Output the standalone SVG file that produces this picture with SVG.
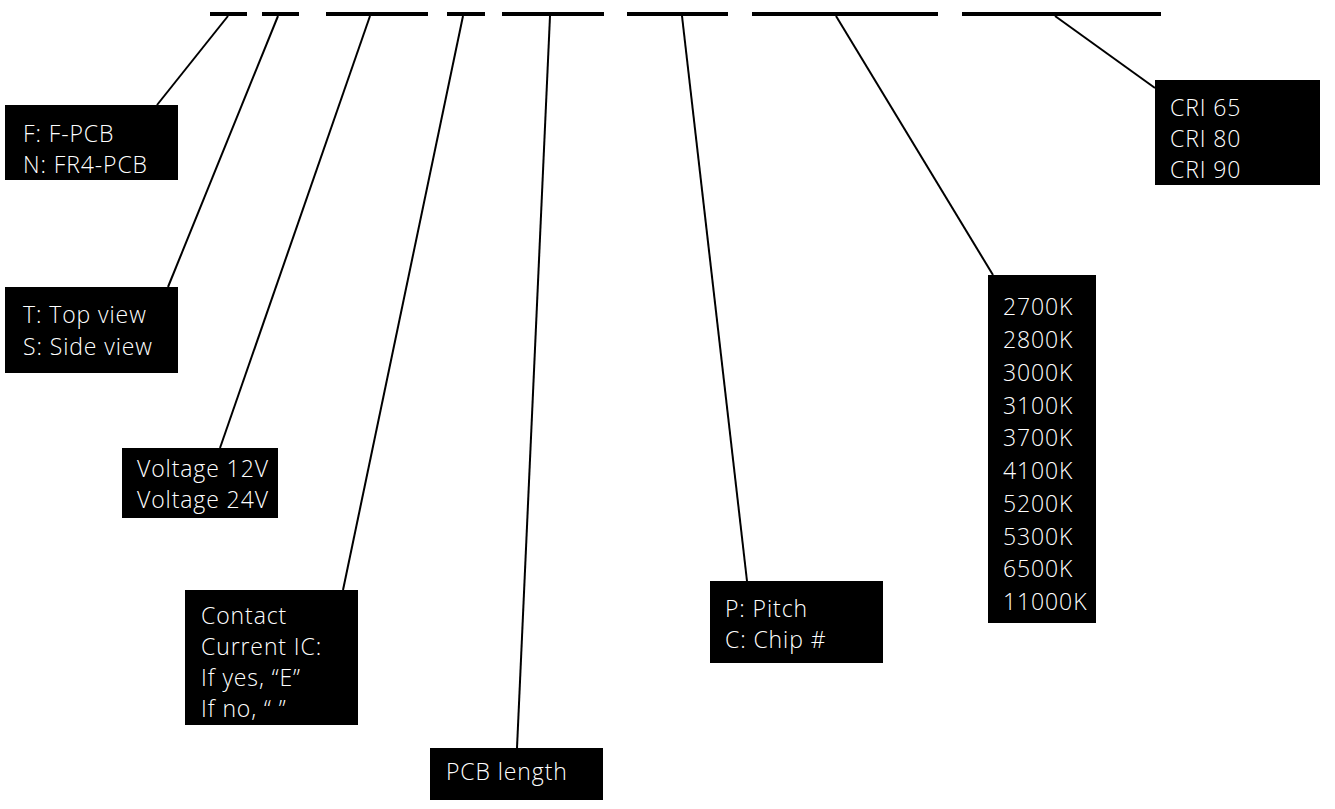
<svg xmlns="http://www.w3.org/2000/svg" width="1335" height="809" viewBox="0 0 1335 809">
<style>
.bar{stroke:#000;stroke-width:4;fill:none}
.con{stroke:#000;stroke-width:2;fill:none}
.box{fill:#000}
.t{font-family:"Open Sans","Noto Sans",sans-serif;font-size:23px;font-weight:300;letter-spacing:0.9px;fill:#fff}
</style>
<rect width="1335" height="809" fill="#fff"/>
<g id="bars">
<line class="bar" x1="210" y1="14" x2="247" y2="14"/>
<line class="bar" x1="262" y1="14" x2="299" y2="14"/>
<line class="bar" x1="326" y1="14" x2="428" y2="14"/>
<line class="bar" x1="447" y1="14" x2="485" y2="14"/>
<line class="bar" x1="502" y1="14" x2="604" y2="14"/>
<line class="bar" x1="627" y1="14" x2="728" y2="14"/>
<line class="bar" x1="752" y1="14" x2="938" y2="14"/>
<line class="bar" x1="962" y1="14" x2="1161" y2="14"/>
</g>
<g id="connectors">
<line class="con" x1="228" y1="16" x2="157" y2="105"/>
<line class="con" x1="278" y1="16" x2="168" y2="287"/>
<line class="con" x1="370" y1="16" x2="220" y2="448"/>
<line class="con" x1="463" y1="16" x2="343" y2="590"/>
<line class="con" x1="550" y1="16" x2="517" y2="748"/>
<line class="con" x1="682" y1="16" x2="747" y2="581"/>
<line class="con" x1="836" y1="16" x2="993" y2="275"/>
<line class="con" x1="1055" y1="16" x2="1155" y2="88"/>
</g>
<g id="pcb-type">
<rect class="box" x="5" y="105" width="173" height="75"/>
<text class="t" x="23" y="142">F: F-PCB</text>
<text class="t" x="23" y="173">N: FR4-PCB</text>
</g>
<g id="view">
<rect class="box" x="5" y="287" width="173" height="86"/>
<text class="t" x="23" y="323">T: Top view</text>
<text class="t" x="23" y="355">S: Side view</text>
</g>
<g id="voltage">
<rect class="box" x="122" y="448" width="156" height="70"/>
<text class="t" x="137" y="477">Voltage 12V</text>
<text class="t" x="137" y="508">Voltage 24V</text>
</g>
<g id="contact">
<rect class="box" x="185" y="590" width="173" height="135"/>
<text class="t" x="201" y="624">Contact</text>
<text class="t" x="201" y="655">Current IC:</text>
<text class="t" x="201" y="686">If yes, “E”</text>
<text class="t" x="201" y="717">If no, “ ”</text>
</g>
<g id="length">
<rect class="box" x="430" y="748" width="173" height="52"/>
<text class="t" x="446" y="780">PCB length</text>
</g>
<g id="pitch">
<rect class="box" x="710" y="581" width="173" height="82"/>
<text class="t" x="725" y="617">P: Pitch</text>
<text class="t" x="725" y="648">C: Chip #</text>
</g>
<g id="cct">
<rect class="box" x="988" y="275" width="108" height="348"/>
<text class="t" x="1003" y="315">2700K</text>
<text class="t" x="1003" y="348">2800K</text>
<text class="t" x="1003" y="381">3000K</text>
<text class="t" x="1003" y="414">3100K</text>
<text class="t" x="1003" y="446">3700K</text>
<text class="t" x="1003" y="479">4100K</text>
<text class="t" x="1003" y="512">5200K</text>
<text class="t" x="1003" y="545">5300K</text>
<text class="t" x="1003" y="577">6500K</text>
<text class="t" x="1003" y="610">11000K</text>
</g>
<g id="cri">
<rect class="box" x="1155" y="80" width="165" height="105"/>
<text class="t" x="1170" y="116">CRI 65</text>
<text class="t" x="1170" y="147">CRI 80</text>
<text class="t" x="1170" y="178">CRI 90</text>
</g>
</svg>
